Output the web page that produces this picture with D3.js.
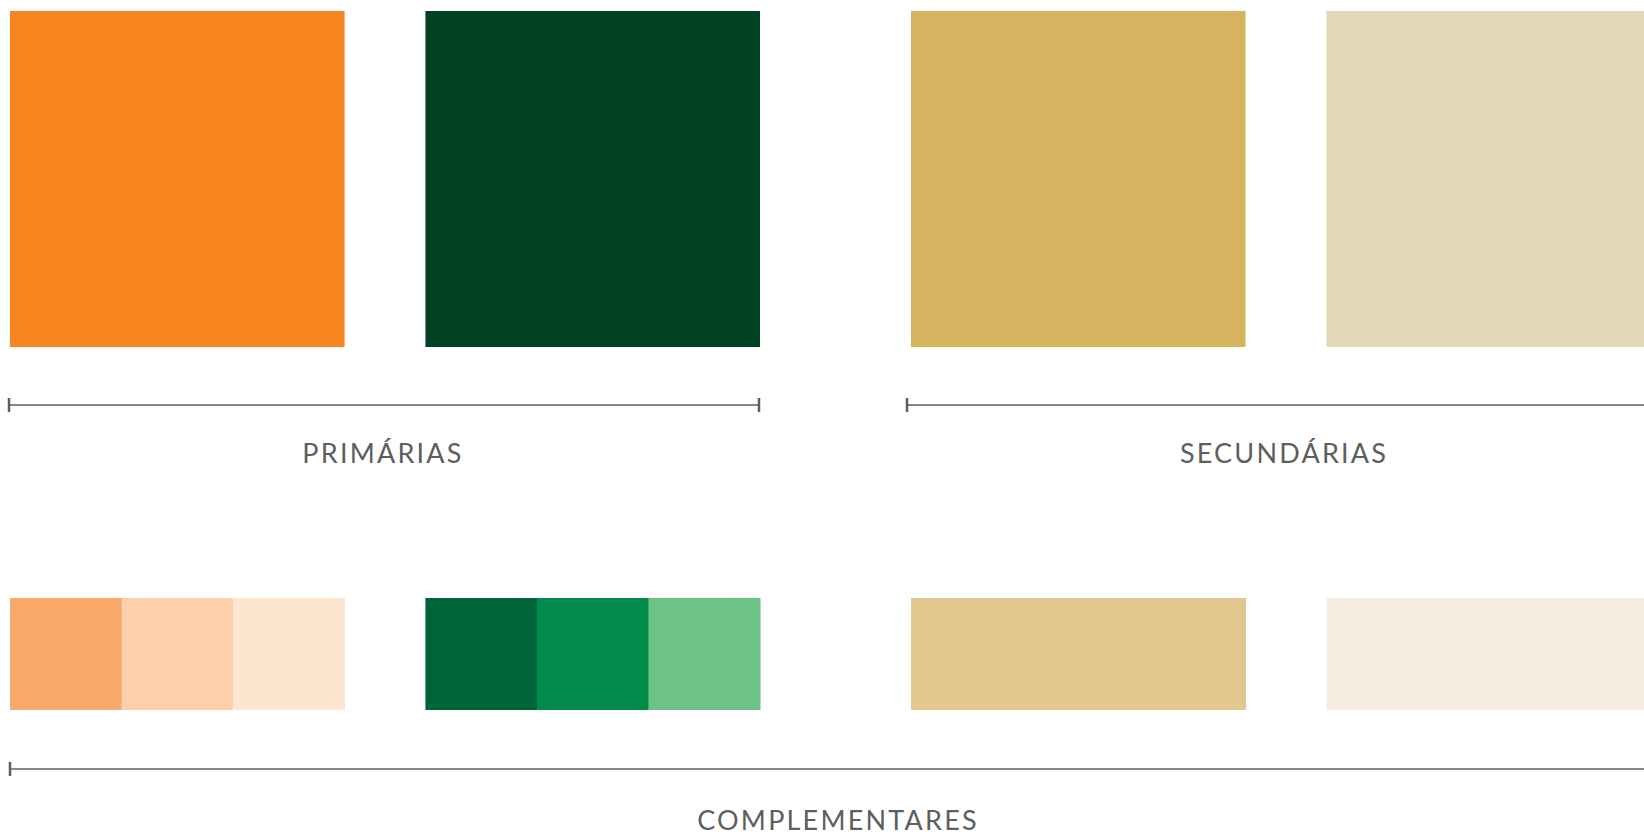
<!DOCTYPE html>
<html>
<head>
<meta charset="utf-8">
<script src="https://cdn.jsdelivr.net/npm/d3@7"></script>
<style>
  html, body { margin: 0; padding: 0; background: #fff; overflow: hidden; }
  svg { display: block; }
</style>
</head>
<body>
<svg id="chart"></svg>
<script>
// palette groups
const groups = ["PRIMÁRIAS", "SECUNDÁRIAS"];
const mainColors = [
    ["#F7841F", "#004123"],
    ["#D6B35E", "#E2D8B7"]
];
const compColors = [
    [["#F9A96A", "#FDD0AB", "#FEE5D0"], ["#00643A", "#008B4B", "#6CC383"]],
    [["#E2C88E"], ["#F5EEE1"]]
];
const compLabel = "COMPLEMENTARES";

const W = 1644, H = 836;
const svg = d3.select("#chart").attr("width", W).attr("height", H);

//group band: two groups, the second one runs past the right edge
const gx = d3.scaleBand().domain(d3.range(groups.length)).range([10, 1661]).paddingInner(0.1676);
const sx = d3.scaleBand().domain([0, 1]).range([0, gx.bandwidth()]).paddingInner(0.1947);

const ink = "#5e5e5e";

function bracket(g, x1, x2, y){
    g.append("line").attr("x1", x1).attr("x2", x2).attr("y1", y).attr("y2", y)
        .attr("stroke", ink).attr("stroke-width", 1.6);
    g.append("line").attr("x1", x1).attr("x2", x1).attr("y1", y - 7).attr("y2", y + 7)
        .attr("stroke", ink).attr("stroke-width", 2.5);
    if(x2 < W){
        g.append("line").attr("x1", x2).attr("x2", x2).attr("y1", y - 7).attr("y2", y + 7)
            .attr("stroke", ink).attr("stroke-width", 2.5);
    }
}

function label(g, txt, x, y){
    g.append("text").attr("x", x).attr("y", y).attr("text-anchor", "middle")
        .attr("fill", ink)
        .style("font-family", "Lato, 'Open Sans', sans-serif")
        .style("font-size", "27px")
        .style("letter-spacing", "2.2px")
        .text(txt);
}

groups.forEach((name, gi) => {
    const g = svg.append("g").attr("transform", `translate(${gx(gi)},0)`);
    //main swatches
    g.selectAll("rect.main").data(mainColors[gi]).join("rect")
        .attr("class", "main")
        .attr("x", (d, i) => sx(i))
        .attr("y", 11)
        .attr("width", sx.bandwidth())
        .attr("height", 336)
        .attr("fill", d => d);
    //complementary swatches
    compColors[gi].forEach((cols, si) => {
        const cx = d3.scaleBand().domain(d3.range(cols.length)).range([sx(si), sx(si) + sx.bandwidth()]);
        g.selectAll(null).data(cols).join("rect")
            .attr("x", (d, i) => cx(i))
            .attr("y", 598)
            .attr("width", cx.bandwidth() + 0.5)
            .attr("height", 112)
            .attr("fill", d => d);
    });
    //bracket + label
    const x1 = gi === 0 ? -1 : -4;
    bracket(g, x1, gx.bandwidth() - 1, 405);
    label(g, name, gx.bandwidth() / 2 - 2, 463);
});

//complementary bracket over whole width
const bg = svg.append("g");
bracket(bg, 10, W, 769);
label(bg, compLabel, 838, 830);
</script>
</body>
</html>
